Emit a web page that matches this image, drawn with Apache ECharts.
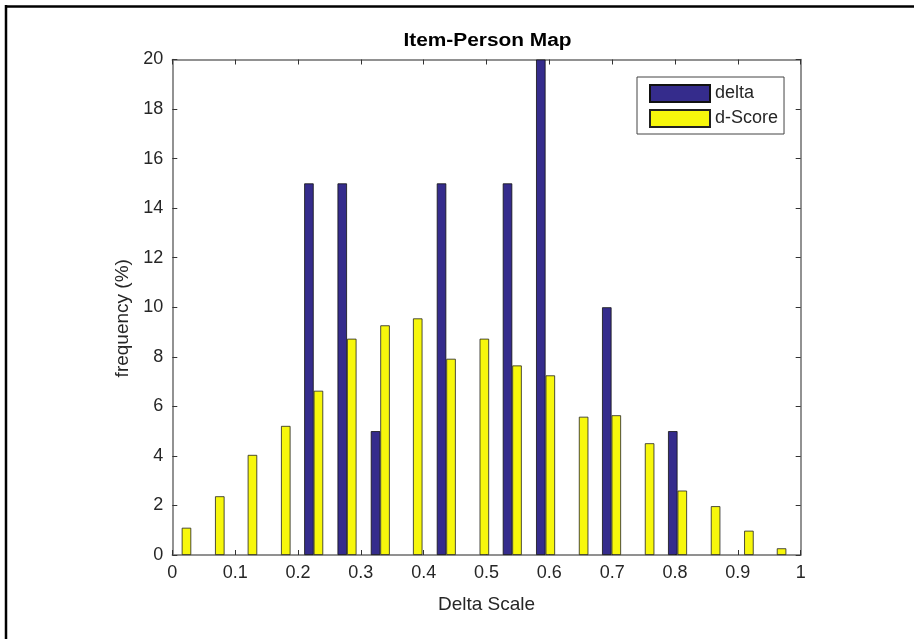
<!DOCTYPE html>
<html><head><meta charset="utf-8">
<script src="https://cdn.jsdelivr.net/npm/echarts@6/dist/echarts.min.js"></script>
<style>html,body{margin:0;padding:0;background:#fff}#c{width:914px;height:639px}</style>
</head><body><div id="c"></div>
<script>
// Bin (group) centres on the Delta Scale
const binCenters = [0.015,0.068,0.120,0.173,0.225,0.278,0.331,0.383,0.436,0.489,0.541,0.594,0.647,0.699,0.752,0.804,0.857,0.910,0.962];
// frequency (%) per bin
const deltaValues  = [0,0,0,0,15,15,5,0,15,0,15,20,0,10,0,5,0,0,0];
const dScoreValues = [1.10,2.37,4.04,5.21,6.63,8.73,9.27,9.55,7.92,8.73,7.65,7.25,5.58,5.64,4.51,2.60,1.97,0.98,0.27];
const seriesNames = ['delta','d-Score'];
const titleText = 'Item-Person Map';
const xName = 'Delta Scale';
const yName = 'frequency (%)';

const FONT = '"Liberation Sans", Arial, Helvetica, sans-serif';
const axisCol = '#6e6e6e';
const txtCol = '#262626';

const chart = echarts.init(document.getElementById('c'), null, {renderer:'canvas'});
const xBase = {type:'value', min:0, max:1, interval:0.1,
  axisLine:{show:true, onZero:false, lineStyle:{color:axisCol, width:1.5}},
  axisTick:{show:true, inside:true, length:5, lineStyle:{color:'#333', width:1}},
  splitLine:{show:false}};
const yBase = {type:'value', min:0, max:20, interval:2,
  axisLine:{show:true, onZero:false, lineStyle:{color:axisCol, width:1.5}},
  axisTick:{show:true, inside:true, length:5, lineStyle:{color:'#333', width:1}},
  splitLine:{show:false}};

function toBars(values){
  return binCenters.map((x,i)=> values[i] === 0
    ? {value:[x, values[i]], itemStyle:{borderWidth:0}}
    : [x, values[i]]);
}

chart.setOption({
  animation:false,
  backgroundColor:'#fff',
  textStyle:{fontFamily:FONT},
  grid:{left:172.3, right:113.3, top:59.5, bottom:84, containLabel:false},
  xAxis:[
    Object.assign({}, xBase, {position:'bottom', name:xName, nameLocation:'middle', nameGap:40,
      nameTextStyle:{fontFamily:FONT, fontSize:19, color:txtCol},
      axisLabel:{show:true, margin:9, fontFamily:FONT, fontSize:18, color:txtCol}}),
    Object.assign({}, xBase, {position:'top', axisLabel:{show:false}})
  ],
  yAxis:[
    Object.assign({}, yBase, {position:'left', name:yName, nameLocation:'middle', nameGap:36,
      nameTextStyle:{fontFamily:FONT, fontSize:19, color:txtCol, padding:[0,22,0,0]},
      axisLabel:{show:true, margin:9, fontFamily:FONT, fontSize:18, color:txtCol}}),
    Object.assign({}, yBase, {position:'right', axisLabel:{show:false}})
  ],
  legend:{show:true, orient:'vertical', left:637, top:77,
    backgroundColor:'#fff', borderColor:'#444', borderWidth:1,
    padding:[7,6,6,12], itemGap:6, itemWidth:60, itemHeight:17,
    icon:'rect',
    textStyle:{fontFamily:FONT, fontSize:18, color:txtCol},
    data:seriesNames},
  graphic:[
    {type:'text', x:487.5, y:41.5, scaleX:1.16,
      style:{text:titleText, font:'bold 18px ' + FONT, fill:'#000', align:'center', verticalAlign:'middle'}},
    {type:'line', shape:{x1:5, y1:6.5, x2:914, y2:6.5}, style:{stroke:'#000', lineWidth:2.5}},
    {type:'line', shape:{x1:6, y1:5, x2:6, y2:639}, style:{stroke:'#000', lineWidth:2.5}}
  ],
  series:[
    {name:seriesNames[0], type:'bar', xAxisIndex:0, yAxisIndex:0,
      barWidth:9.5, barGap:'0%',
      itemStyle:{color:'#352c8c', borderColor:'#111', borderWidth:0.8},
      data:toBars(deltaValues)},
    {name:seriesNames[1], type:'bar', xAxisIndex:0, yAxisIndex:0,
      barWidth:9.5, barGap:'0%',
      itemStyle:{color:'#f7f70c', borderColor:'#222', borderWidth:0.8},
      data:toBars(dScoreValues)}
  ]
});
</script></body></html>
